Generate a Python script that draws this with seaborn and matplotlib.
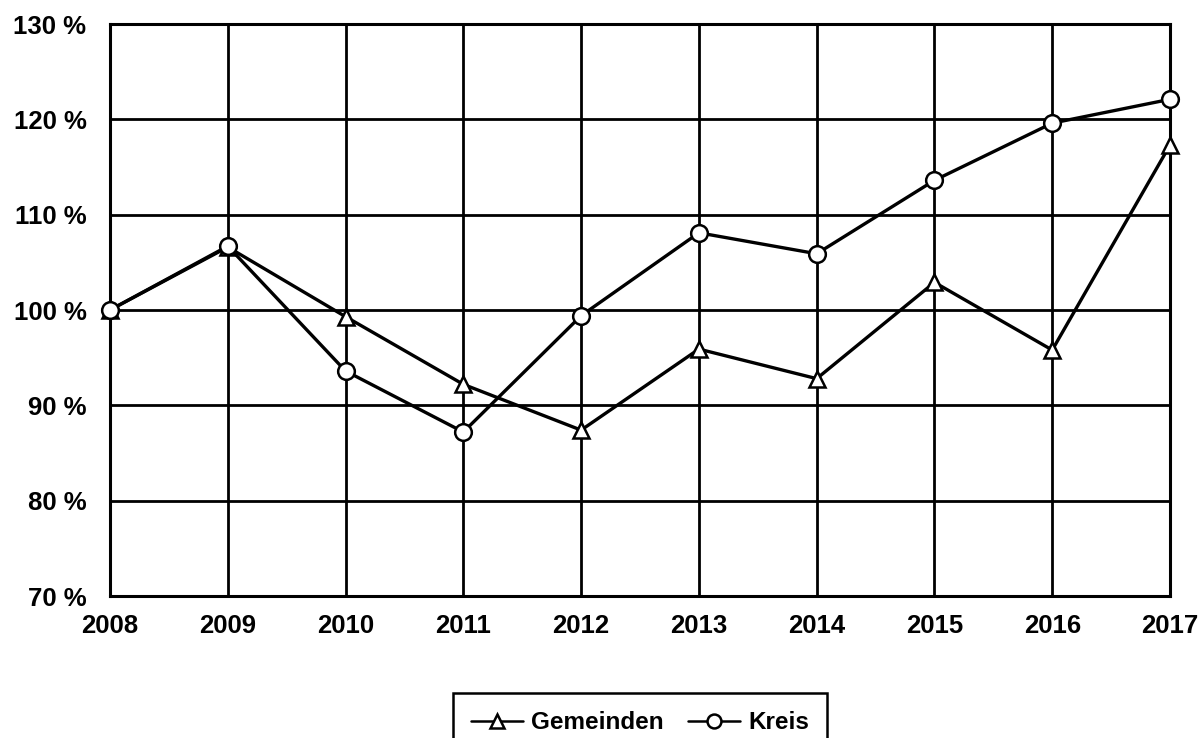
import matplotlib
matplotlib.use("Agg")
import matplotlib.pyplot as plt
import seaborn as sns
import pandas as pd

years = [2008, 2009, 2010, 2011, 2012, 2013, 2014, 2015, 2016, 2017]
gemeinden = [100.0, 106.6, 99.3, 92.2, 87.4, 95.9, 92.8, 102.9, 95.8, 117.3]
kreis = [100.0, 106.7, 93.6, 87.2, 99.4, 108.1, 105.9, 113.6, 119.6, 122.1]
y_ticks = [70, 80, 90, 100, 110, 120, 130]

sns.set_style("white")
plt.rcParams["font.family"] = ["Liberation Sans", "DejaVu Sans"]
plt.rcParams["font.weight"] = "bold"
plt.rcParams["text.color"] = "black"

df = pd.DataFrame({"Jahr": years, "Gemeinden": gemeinden, "Kreis": kreis})

fig = plt.figure(figsize=(12.04, 7.38), dpi=100)
ax = fig.add_axes([110 / 1204, 142 / 738, 1060 / 1204, 572 / 738])

line_kw = dict(color="black", linewidth=2.4, markersize=12, markerfacecolor="white",
               markeredgecolor="black", markeredgewidth=1.8, zorder=3, clip_on=False)
sns.lineplot(data=df, x="Jahr", y="Gemeinden", marker="^", label="Gemeinden", ax=ax, **line_kw)
sns.lineplot(data=df, x="Jahr", y="Kreis", marker="o", label="Kreis", ax=ax, **line_kw)

ax.set_xlim(years[0], years[-1])
ax.set_ylim(y_ticks[0], y_ticks[-1])
ax.set_xticks(years)
ax.set_yticks(y_ticks)
ax.set_yticklabels([f"{v} %" for v in y_ticks])
ax.set_xlabel("")
ax.set_ylabel("")

ax.grid(True, color="black", linewidth=2.0, zorder=0)
ax.set_axisbelow(True)
for s in ax.spines.values():
    s.set_color("black")
    s.set_linewidth(2.2)

ax.tick_params(axis="both", which="both", direction="out", color="black", width=1.8,
               labelsize=18.5, labelcolor="black")
ax.tick_params(axis="x", length=5, pad=8)
ax.tick_params(axis="y", length=7, pad=10)
for lbl in ax.get_xticklabels() + ax.get_yticklabels():
    lbl.set_fontweight("bold")

leg = ax.legend(loc="upper center", bbox_to_anchor=(640 / 1204, 1 - 693 / 738),
                bbox_transform=fig.transFigure, ncol=2, frameon=True, fancybox=False,
                framealpha=1, edgecolor="black", prop={"weight": "bold", "size": 17.5},
                handlelength=2.15, handletextpad=0.33, columnspacing=1.0,
                borderpad=0.75, borderaxespad=0)
leg.get_frame().set_linewidth(1.8)
for t in leg.get_texts():
    t.set_color("black")
for h in leg.get_lines():
    h.set_markersize(10)
    h.set_linewidth(1.8)

fig.savefig("out.png", dpi=100)
